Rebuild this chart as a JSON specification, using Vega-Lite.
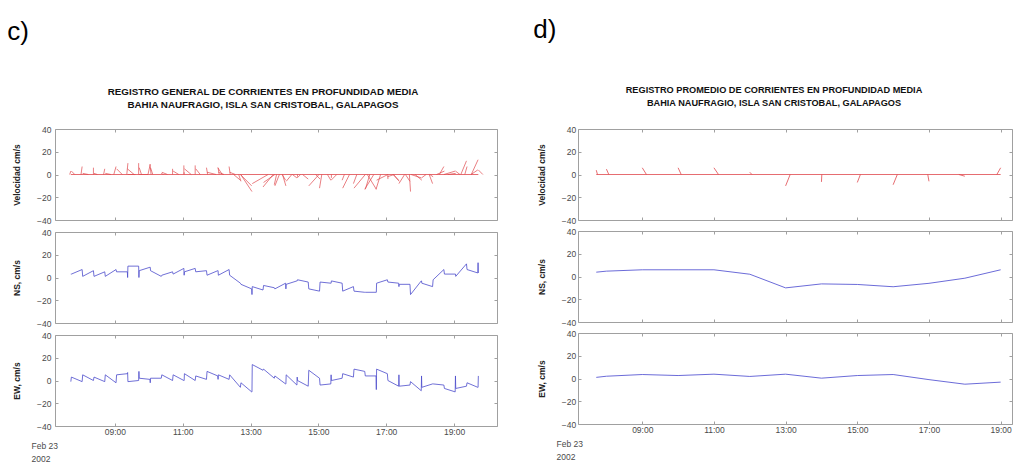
{
  "$schema": "https://vega.github.io/schema/vega-lite/v6.json",
  "background": "white",
  "padding": {"left": 7, "top": 17, "right": 0, "bottom": 0},
  "spacing": 35,
  "datasets": {
    "left": [
      {"t":462,"ns":3,"ew":-1,"te":460},{"t":463,"ns":3,"ew":3,"te":469},
      {"t":482,"ns":7,"ew":-1,"te":480},{"t":483,"ns":1,"ew":5,"te":493},
      {"t":502,"ns":6,"ew":0,"te":502},{"t":503,"ns":1,"ew":3,"te":509},
      {"t":522,"ns":5,"ew":-1,"te":520},{"t":523,"ns":1,"ew":5,"te":533},
      {"t":542,"ns":7,"ew":-2,"te":538},{"t":543,"ns":5,"ew":5,"te":553},
      {"t":562,"ns":5,"ew":6,"te":574},{"t":562.5,"ns":0,"ew":7,"te":576.5},{"t":563,"ns":10,"ew":-1,"te":561},
      {"t":582,"ns":10,"ew":0,"te":582},{"t":582.5,"ns":0,"ew":8,"te":598.5},{"t":583,"ns":6,"ew":2,"te":587},
      {"t":602,"ns":9,"ew":1,"te":604},{"t":602.5,"ns":9,"ew":-2,"te":598.5},{"t":603,"ns":6,"ew":2,"te":607},
      {"t":622,"ns":1,"ew":2,"te":626},{"t":623,"ns":2,"ew":5,"te":633},
      {"t":642,"ns":5,"ew":0,"te":642},{"t":643,"ns":3,"ew":5,"te":653},
      {"t":662,"ns":8,"ew":0,"te":662},{"t":662.5,"ns":2,"ew":0,"te":662.5},{"t":663,"ns":5,"ew":6,"te":675},
      {"t":682,"ns":8,"ew":0,"te":682},{"t":683,"ns":5,"ew":4,"te":691},
      {"t":702,"ns":6,"ew":1,"te":704},{"t":703,"ns":2,"ew":8,"te":719},
      {"t":722,"ns":6,"ew":4,"te":730},{"t":722.5,"ns":6,"ew":1,"te":724.5},{"t":723,"ns":2,"ew":5,"te":733},
      {"t":742,"ns":7,"ew":1,"te":744},{"t":743,"ns":2,"ew":5,"te":753},
      {"t":762,"ns":-5,"ew":-6,"te":750},{"t":763,"ns":-6,"ew":-2,"te":759},
      {"t":782,"ns":-10,"ew":-10,"te":762},{"t":782.5,"ns":-15,"ew":-10,"te":762.5},{"t":783,"ns":-8,"ew":14,"te":811},
      {"t":802,"ns":-11,"ew":9,"te":820},{"t":803,"ns":-7,"ew":10,"te":823},
      {"t":822,"ns":-9,"ew":2,"te":826},{"t":823,"ns":-10,"ew":4,"te":831},
      {"t":842,"ns":-5,"ew":-3,"te":836},{"t":842.5,"ns":-10,"ew":-3,"te":836.5},{"t":843,"ns":-6,"ew":5,"te":853},
      {"t":862,"ns":-3,"ew":-4,"te":854},{"t":862.5,"ns":-3,"ew":3,"te":868.5},{"t":863,"ns":-2,"ew":0,"te":863},
      {"t":882,"ns":-4,"ew":-5,"te":872},{"t":883,"ns":-10,"ew":9,"te":901},
      {"t":902,"ns":-12,"ew":2,"te":906},{"t":903,"ns":-4,"ew":-4,"te":895},
      {"t":922,"ns":-5,"ew":-3,"te":916},{"t":922.5,"ns":-5,"ew":5,"te":932.5},{"t":923,"ns":-3,"ew":0,"te":923},
      {"t":942,"ns":-5,"ew":2,"te":946},{"t":943,"ns":-12,"ew":6,"te":955},
      {"t":962,"ns":-8,"ew":3,"te":968},{"t":963,"ns":-12,"ew":10,"te":983},
      {"t":982,"ns":-13,"ew":8,"te":998},{"t":983,"ns":-13,"ew":4,"te":991},
      {"t":1002,"ns":-13,"ew":4,"te":1010},{"t":1002.5,"ns":-13,"ew":-8,"te":986.5},{"t":1003,"ns":-5,"ew":10,"te":1023},
      {"t":1022,"ns":-2,"ew":6,"te":1034},{"t":1023,"ns":-4,"ew":0,"te":1023},
      {"t":1042,"ns":-5,"ew":-5,"te":1032},{"t":1042.5,"ns":-8,"ew":5,"te":1052.5},{"t":1043,"ns":-6,"ew":-5,"te":1033},
      {"t":1062,"ns":-6,"ew":-4,"te":1054},{"t":1063,"ns":-15,"ew":-1,"te":1061},
      {"t":1082,"ns":-3,"ew":-9,"te":1064},{"t":1082.5,"ns":-3,"ew":4,"te":1090.5},{"t":1083,"ns":-5,"ew":-6,"te":1071},
      {"t":1102,"ns":-8,"ew":-3,"te":1096},{"t":1103,"ns":-2,"ew":-3,"te":1097},
      {"t":1122,"ns":7,"ew":-4,"te":1114},{"t":1123,"ns":3,"ew":-7,"te":1109},
      {"t":1142,"ns":3,"ew":-10,"te":1122},{"t":1142.5,"ns":3,"ew":4,"te":1150.5},{"t":1143,"ns":1,"ew":-7,"te":1129},
      {"t":1162,"ns":12,"ew":-5,"te":1152},{"t":1163,"ns":7,"ew":-2,"te":1159},
      {"t":1182,"ns":4,"ew":-6,"te":1170},{"t":1182.5,"ns":13,"ew":-6,"te":1170.5},{"t":1183,"ns":4,"ew":4,"te":1191}
    ],
    "right": [
      {"t":463,"ns":3.8,"ew":1,"te":465},
      {"t":480,"ns":4.7,"ew":2,"te":484},
      {"t":540,"ns":5.9,"ew":3.5,"te":547},
      {"t":600,"ns":5.9,"ew":2.6,"te":605.2},
      {"t":660,"ns":5.9,"ew":3.8,"te":667.6},
      {"t":720,"ns":2,"ew":1.8,"te":723.6},
      {"t":780,"ns":-10,"ew":3.8,"te":787.6},
      {"t":840,"ns":-6.5,"ew":0.3,"te":840.6},
      {"t":900,"ns":-7,"ew":2.6,"te":905.2},
      {"t":960,"ns":-9,"ew":3.5,"te":967},
      {"t":1020,"ns":-6,"ew":-1,"te":1018},
      {"t":1080,"ns":-1.5,"ew":-5,"te":1070},
      {"t":1140,"ns":5.9,"ew":-3.2,"te":1133.6}
    ]
  },
  "hconcat": [
    {
      "title": {"text": "c)", "anchor": "start", "fontSize": 26, "fontWeight": "normal", "color": "#000", "offset": 42, "dx": -4.5},
      "spacing": 2,
      "vconcat": [
        {
          "width": 442, "height": 91,
          "data": {"name": "left"},
          "title": {"text": ["REGISTRO  GENERAL DE CORRIENTES EN PROFUNDIDAD MEDIA", "BAHIA NAUFRAGIO, ISLA SAN CRISTOBAL, GALAPAGOS"], "fontSize": 9.8, "fontWeight": "bold", "lineHeight": 13, "offset": 15, "dx": -13, "color": "#111"},
          "layer": [
            {"mark": {"type": "rule", "color": "#e0474c", "strokeWidth": 0.7},
             "encoding": {
               "x": {"field": "t", "type": "quantitative", "scale": {"domain": [434, 1216], "nice": false, "zero": false},
                     "axis": {"values": [540, 660, 780, 900, 1020, 1140], "labels": false, "title": null, "tickSize": -3, "minExtent": 0, "maxExtent": 0}},
               "x2": {"field": "te"},
               "y": {"field": "ns", "type": "quantitative", "scale": {"domain": [-40, 40], "nice": false},
                     "axis": {"values": [-40, -20, 0, 20, 40], "title": "Velocidad cm/s", "titlePadding": 15.3, "tickSize": -3, "labelPadding": 7}},
               "y2": {"datum": 0}}},
            {"mark": {"type": "line", "opacity": 0},
             "encoding": {
               "x": {"field": "t", "type": "quantitative", "axis": {"orient": "top", "values": [540, 660, 780, 900, 1020, 1140], "labels": false, "title": null, "tickSize": -3, "minExtent": 0, "maxExtent": 0}},
               "y": {"field": "ns", "type": "quantitative", "axis": {"orient": "right", "values": [-40, -20, 0, 20, 40], "labels": false, "title": null, "tickSize": -3, "minExtent": 0, "maxExtent": 0}}}},
            {"mark": {"type": "rule", "color": "#e0474c", "strokeWidth": 0.8},
             "encoding": {
               "x": {"aggregate": "min", "field": "t", "type": "quantitative", "axis": null},
               "x2": {"aggregate": "max", "field": "t"},
               "y": {"datum": 0, "type": "quantitative", "axis": null}}}
          ],
          "resolve": {"axis": {"x": "independent", "y": "independent"}}
        },
        {
          "width": 442, "height": 91,
          "data": {"name": "left"},
          "layer": [
            {"mark": {"type": "line", "color": "#4b4bcc", "strokeWidth": 0.8},
             "encoding": {
               "x": {"field": "t", "type": "quantitative", "scale": {"domain": [434, 1216], "nice": false, "zero": false},
                     "axis": {"values": [540, 660, 780, 900, 1020, 1140], "labels": false, "title": null, "tickSize": -3, "minExtent": 0, "maxExtent": 0}},
               "y": {"field": "ns", "type": "quantitative", "scale": {"domain": [-40, 40], "nice": false},
                     "axis": {"values": [-40, -20, 0, 20, 40], "title": "NS, cm/s", "titlePadding": 15.3, "tickSize": -3, "labelPadding": 7}}}},
            {"mark": {"type": "line", "opacity": 0},
             "encoding": {
               "x": {"field": "t", "type": "quantitative", "axis": {"orient": "top", "values": [540, 660, 780, 900, 1020, 1140], "labels": false, "title": null, "tickSize": -3, "minExtent": 0, "maxExtent": 0}},
               "y": {"field": "ns", "type": "quantitative", "axis": {"orient": "right", "values": [-40, -20, 0, 20, 40], "labels": false, "title": null, "tickSize": -3, "minExtent": 0, "maxExtent": 0}}}}
          ],
          "resolve": {"axis": {"x": "independent", "y": "independent"}}
        },
        {
          "width": 442, "height": 91,
          "data": {"name": "left"},
          "layer": [
            {"mark": {"type": "line", "color": "#4b4bcc", "strokeWidth": 0.8},
             "encoding": {
               "x": {"field": "t", "type": "quantitative", "scale": {"domain": [434, 1216], "nice": false, "zero": false},
                     "axis": {"values": [540, 660, 780, 900, 1020, 1140], "labelExpr": "timeFormat(datetime(2002, 1, 23, 0, datum.value), '%H:%M')", "tickSize": -3, "labelPadding": 4.5,
                              "title": ["Feb 23", "2002"], "titleAnchor": "start", "titleAlign": "left", "titleX": -24, "titleY": 15, "titleBaseline": "top", "titleFontWeight": "normal", "titleColor": "#4a4a4a", "titleLineHeight": 13}},
               "y": {"field": "ew", "type": "quantitative", "scale": {"domain": [-40, 40], "nice": false},
                     "axis": {"values": [-40, -20, 0, 20, 40], "title": "EW, cm/s", "titlePadding": 15.3, "tickSize": -3, "labelPadding": 7}}}},
            {"mark": {"type": "line", "opacity": 0},
             "encoding": {
               "x": {"field": "t", "type": "quantitative", "axis": {"orient": "top", "values": [540, 660, 780, 900, 1020, 1140], "labels": false, "title": null, "tickSize": -3, "minExtent": 0, "maxExtent": 0}},
               "y": {"field": "ew", "type": "quantitative", "axis": {"orient": "right", "values": [-40, -20, 0, 20, 40], "labels": false, "title": null, "tickSize": -3, "minExtent": 0, "maxExtent": 0}}}}
          ],
          "resolve": {"axis": {"x": "independent", "y": "independent"}}
        }
      ]
    },
    {
      "title": {"text": "d)", "anchor": "start", "fontSize": 26, "fontWeight": "normal", "color": "#000", "offset": 42, "dx": -3.5},
      "spacing": 1,
      "vconcat": [
        {
          "width": 434, "height": 91,
          "data": {"name": "right"},
          "title": {"text": ["REGISTRO  PROMEDIO DE CORRIENTES EN PROFUNDIDAD MEDIA", "BAHIA NAUFRAGIO, ISLA SAN CRISTOBAL, GALAPAGOS"], "fontSize": 9.2, "fontWeight": "bold", "lineHeight": 13, "offset": 15, "dx": -21, "dy": -2, "color": "#111"},
          "layer": [
            {"mark": {"type": "rule", "color": "#e0474c", "strokeWidth": 0.8},
             "encoding": {
               "x": {"field": "t", "type": "quantitative", "scale": {"domain": [432.4, 1159], "nice": false, "zero": false},
                     "axis": {"values": [540, 660, 780, 900, 1020, 1140], "labels": false, "title": null, "tickSize": -3, "minExtent": 0, "maxExtent": 0}},
               "x2": {"field": "te"},
               "y": {"field": "ns", "type": "quantitative", "scale": {"domain": [-40, 40], "nice": false},
                     "axis": {"values": [-40, -20, 0, 20, 40], "title": "Velocidad cm/s", "titlePadding": 15, "tickSize": -3, "labelPadding": 5.3}},
               "y2": {"datum": 0}}},
            {"mark": {"type": "line", "opacity": 0},
             "encoding": {
               "x": {"field": "t", "type": "quantitative", "axis": {"orient": "top", "values": [540, 660, 780, 900, 1020, 1140], "labels": false, "title": null, "tickSize": -3, "minExtent": 0, "maxExtent": 0}},
               "y": {"field": "ns", "type": "quantitative", "axis": {"orient": "right", "values": [-40, -20, 0, 20, 40], "labels": false, "title": null, "tickSize": -3, "minExtent": 0, "maxExtent": 0}}}},
            {"mark": {"type": "rule", "color": "#e0474c", "strokeWidth": 0.8},
             "encoding": {
               "x": {"aggregate": "min", "field": "t", "type": "quantitative", "axis": null},
               "x2": {"aggregate": "max", "field": "t"},
               "y": {"datum": 0, "type": "quantitative", "axis": null}}}
          ],
          "resolve": {"axis": {"x": "independent", "y": "independent"}}
        },
        {
          "width": 434, "height": 91,
          "data": {"name": "right"},
          "layer": [
            {"mark": {"type": "line", "color": "#5a5ad4", "strokeWidth": 0.9},
             "encoding": {
               "x": {"field": "t", "type": "quantitative", "scale": {"domain": [432.4, 1159], "nice": false, "zero": false},
                     "axis": {"values": [540, 660, 780, 900, 1020, 1140], "labels": false, "title": null, "tickSize": -3, "minExtent": 0, "maxExtent": 0}},
               "y": {"field": "ns", "type": "quantitative", "scale": {"domain": [-40, 40], "nice": false},
                     "axis": {"values": [-40, -20, 0, 20, 40], "title": "NS, cm/s", "titlePadding": 15, "tickSize": -3, "labelPadding": 5.3}}}},
            {"mark": {"type": "line", "opacity": 0},
             "encoding": {
               "x": {"field": "t", "type": "quantitative", "axis": {"orient": "top", "values": [540, 660, 780, 900, 1020, 1140], "labels": false, "title": null, "tickSize": -3, "minExtent": 0, "maxExtent": 0}},
               "y": {"field": "ns", "type": "quantitative", "axis": {"orient": "right", "values": [-40, -20, 0, 20, 40], "labels": false, "title": null, "tickSize": -3, "minExtent": 0, "maxExtent": 0}}}}
          ],
          "resolve": {"axis": {"x": "independent", "y": "independent"}}
        },
        {
          "width": 434, "height": 91,
          "data": {"name": "right"},
          "layer": [
            {"mark": {"type": "line", "color": "#5a5ad4", "strokeWidth": 0.9},
             "encoding": {
               "x": {"field": "t", "type": "quantitative", "scale": {"domain": [432.4, 1159], "nice": false, "zero": false},
                     "axis": {"values": [540, 660, 780, 900, 1020, 1140], "labelExpr": "timeFormat(datetime(2002, 1, 23, 0, datum.value), '%H:%M')", "tickSize": -3, "labelPadding": 4.5,
                              "title": ["Feb 23", "2002"], "titleAnchor": "start", "titleAlign": "left", "titleX": -22, "titleY": 15, "titleBaseline": "top", "titleFontWeight": "normal", "titleColor": "#4a4a4a", "titleLineHeight": 13}},
               "y": {"field": "ew", "type": "quantitative", "scale": {"domain": [-40, 40], "nice": false},
                     "axis": {"values": [-40, -20, 0, 20, 40], "title": "EW, cm/s", "titlePadding": 15, "tickSize": -3, "labelPadding": 5.3}}}},
            {"mark": {"type": "line", "opacity": 0},
             "encoding": {
               "x": {"field": "t", "type": "quantitative", "axis": {"orient": "top", "values": [540, 660, 780, 900, 1020, 1140], "labels": false, "title": null, "tickSize": -3, "minExtent": 0, "maxExtent": 0}},
               "y": {"field": "ew", "type": "quantitative", "axis": {"orient": "right", "values": [-40, -20, 0, 20, 40], "labels": false, "title": null, "tickSize": -3, "minExtent": 0, "maxExtent": 0}}}}
          ],
          "resolve": {"axis": {"x": "independent", "y": "independent"}}
        }
      ]
    }
  ],
  "config": {
    "font": "Liberation Sans",
    "view": {"stroke": "#a0a0a0", "strokeWidth": 1},
    "axis": {"labelFont": "Liberation Sans", "labelFontSize": 8.5, "labelColor": "#4a4a4a", "titleFont": "Liberation Sans", "titleFontSize": 8.5, "titleFontWeight": "bold", "titleColor": "#222", "tickColor": "#a0a0a0", "grid": false, "domain": false},
    "title": {"font": "Liberation Sans"}
  }
}
